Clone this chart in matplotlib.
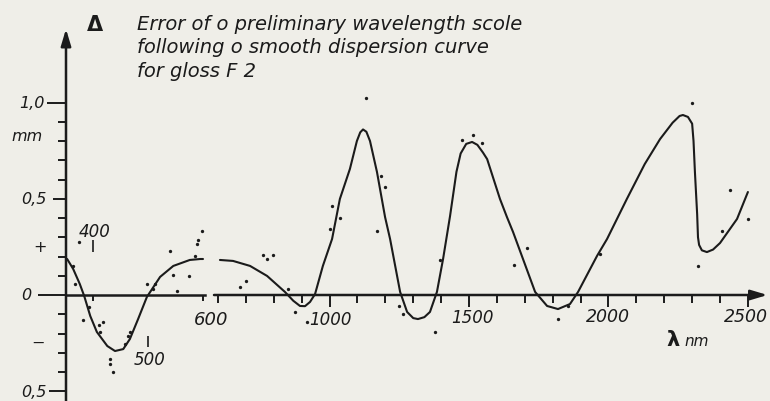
import matplotlib.pyplot as plt
import numpy as np

# smooth dispersion-curve error, short-wave part (nm, mm)
left_curve_wl = [353, 364, 376, 384, 395, 407, 426, 440, 455, 467, 482, 498, 504, 522, 546, 576, 595, 600]
left_curve_err = [0.187, 0.135, 0.057, -0.005, -0.109, -0.192, -0.265, -0.291, -0.281, -0.229,
                  -0.125, -0.010, 0.016, 0.094, 0.151, 0.182, 0.187, 0.187]

# long-wave part
right_curve_wl = [607, 654, 715, 776, 840, 870, 894, 912, 930, 948, 976, 1009, 1037, 1073, 1098,
                  1110, 1120, 1132, 1145, 1170, 1199, 1217, 1253, 1278, 1300, 1317, 1340, 1360,
                  1385, 1407, 1432, 1455, 1470, 1490, 1511, 1530, 1550, 1565, 1611, 1636, 1658,
                  1737, 1780, 1819, 1862, 1891, 1959, 1995, 2066, 2130, 2185, 2230, 2255, 2267,
                  2285, 2300, 2305, 2310, 2318, 2321, 2325, 2335, 2353, 2375, 2400, 2461, 2500]
right_curve_err = [0.182, 0.177, 0.151, 0.099, 0.016, -0.030, -0.057, -0.058, -0.036, 0.005,
                   0.151, 0.291, 0.499, 0.655, 0.800, 0.845, 0.860, 0.848, 0.800, 0.639, 0.405,
                   0.291, 0.016, -0.088, -0.120, -0.125, -0.115, -0.088, 0.016, 0.187, 0.410,
                   0.640, 0.735, 0.785, 0.795, 0.780, 0.740, 0.706, 0.499, 0.405, 0.327, 0.016,
                   -0.057, -0.073, -0.047, 0.016, 0.203, 0.291, 0.499, 0.680, 0.810, 0.895,
                   0.930, 0.935, 0.925, 0.890, 0.800, 0.639, 0.420, 0.300, 0.260, 0.232, 0.223,
                   0.236, 0.270, 0.395, 0.535]

# measured points
left_pts_wl = [374, 598, 591, 589, 540, 585, 364, 545, 575, 367, 498, 513, 509, 553,
               393, 382, 418, 411, 413, 467, 464, 458, 431, 431, 436]
left_pts_err = [0.275, 0.332, 0.286, 0.265, 0.229, 0.203, 0.151, 0.104, 0.099, 0.057, 0.057,
                0.057, 0.031, 0.021, -0.062, -0.130, -0.140, -0.156, -0.192, -0.192, -0.213,
                -0.255, -0.332, -0.358, -0.400]
right_pts_wl = [679, 700, 761, 776, 797, 851, 876, 919, 1002, 1009, 1037, 1131, 1184, 1199,
                1170, 1249, 1263, 1378, 1396, 1475, 1514, 1547, 1661, 1708, 1819, 1855, 1970,
                2300, 2321, 2407, 2436, 2500]
right_pts_err = [0.042, 0.073, 0.208, 0.187, 0.208, 0.031, -0.088, -0.140, 0.343, 0.462, 0.400,
                 1.023, 0.618, 0.561, 0.332, -0.057, -0.099, -0.192, 0.182, 0.805, 0.831, 0.790,
                 0.156, 0.244, -0.125, -0.057, 0.213, 0.997, 0.151, 0.332, 0.545, 0.395]

ytick_minor = [-0.4, -0.3, -0.2, -0.1, 0.1, 0.2, 0.3, 0.4, 0.6, 0.7, 0.8, 0.9]
ytick_major = [1.0, 0.5, 0.0, -0.5]
xtick_right = list(range(600, 2600, 100))
xtick_right_major = [1000, 1500, 2000, 2500]

INK = "#1b1b1b"
BG = "#efeee8"
W, H = 770, 402

plt.rcParams["font.family"] = "DejaVu Sans"
plt.rcParams["font.style"] = "italic"

fig = plt.figure(figsize=(W / 100, H / 100), dpi=100, facecolor=BG)

ylim = ((296 - 402) / 192.5, 296 / 192.5)
# left (short-wave) panel: 0.55 px/nm, right panel: 0.2789 px/nm
ax_l = fig.add_axes([66 / W, 0, (206 - 66) / W, 1])
ax_r = fig.add_axes([214 / W, 0, (770 - 214) / W, 1])
ax_l.set_xlim(400 - 27 / 0.55, 600 + 3 / 0.55)
ax_r.set_xlim(600 - 4 / 0.2789, 600 + 552 / 0.2789)
for ax in (ax_l, ax_r):
    ax.set_ylim(*ylim)
    ax.patch.set_visible(False)
    for s in ("top", "right"):
        ax.spines[s].set_visible(False)

# curves and points
ax_l.plot(left_curve_wl, left_curve_err, color=INK, lw=1.5, solid_capstyle="round")
ax_r.plot(right_curve_wl, right_curve_err, color=INK, lw=1.5, solid_capstyle="round")
ax_l.plot(left_pts_wl, left_pts_err, "o", ms=2.4, color=INK, mew=0)
ax_r.plot(right_pts_wl, right_pts_err, "o", ms=2.4, color=INK, mew=0)

# left panel axes
ax_l.spines["left"].set_visible(False)
ax_l.spines["bottom"].set_position(("data", 0))
ax_l.spines["bottom"].set_linewidth(1.8)
ax_l.spines["bottom"].set_color(INK)
ax_l.spines["bottom"].set_bounds(ax_l.get_xlim()[0], 603)
ax_l.annotate("", xy=(0, (296 - 30) / 192.5), xytext=(0, ylim[0]),
              xycoords=ax_l.get_yaxis_transform(),
              arrowprops=dict(arrowstyle="-|>,head_length=1.0,head_width=0.3",
                              color=INK, lw=1.8, shrinkA=0, shrinkB=0))
ax_l.set_yticks(ytick_major)
ax_l.set_yticks(ytick_minor, minor=True)
ax_l.tick_params(axis="y", which="both", direction="out", width=1.4, color=INK, labelleft=False)
ax_l.tick_params(axis="y", which="minor", length=5.8)
for tick, ln in zip(ax_l.yaxis.get_major_ticks(), [19, 13, 28, 17]):
    tick.tick1line.set_markersize(ln * 0.72)
ax_l.set_xticks([400, 600])
ax_l.tick_params(axis="x", direction="out", length=4.5, width=1.4, color=INK, labelbottom=False)

# right panel axes
ax_r.spines["left"].set_visible(False)
ax_r.spines["bottom"].set_position(("data", 0))
ax_r.spines["bottom"].set_visible(False)
ax_r.annotate("", xy=(0.9955, 0), xytext=(0, 0), xycoords=ax_r.get_yaxis_transform(),
              arrowprops=dict(arrowstyle="-|>,head_length=1.0,head_width=0.3",
                              color=INK, lw=1.8, shrinkA=0, shrinkB=0))
ax_r.set_yticks([])
ax_r.set_xticks(xtick_right_major)
ax_r.set_xticks([t for t in xtick_right if t not in xtick_right_major], minor=True)
ax_r.tick_params(axis="x", which="both", direction="out", width=1.4, color=INK, labelbottom=False)
ax_r.tick_params(axis="x", which="major", length=8.6)
ax_r.tick_params(axis="x", which="minor", length=5.8)

# y labels
ytr = ax_l.get_yaxis_transform()
for txt, val, dx in [("1,0", 1.0, -21), ("0,5", 0.5, -19), ("0", 0.0, -40),
                     ("0,5", -0.5, -19), ("+", 0.25, -26), ("\u2212", -0.245, -28),
                     ("mm", 0.83, -23)]:
    ax_l.annotate(txt, xy=(0, val), xycoords=ytr, xytext=(dx, 0), textcoords="offset pixels",
                  ha="right" if dx > -25 else "center", va="center", fontsize=11.5, color=INK)

# x labels
for txt, val, dx, dy, fs in [("600", 600, -7, -24, 13), ("1000", 1000, 1, -24, 12),
                             ("1500", 1500, 3, -22, 12), ("2000", 2000, -1, -21, 12.5),
                             ("2500", 2500, -2, -21, 12.5)]:
    ax_r.annotate(txt, xy=(val, 0), xytext=(dx, dy), textcoords="offset pixels",
                  ha="center", va="center", fontsize=fs, color=INK)
ax_l.annotate("400", xy=(400, 0), xytext=(2, 64), textcoords="offset pixels",
              ha="center", va="center", fontsize=12, color=INK)
ax_l.annotate("500", xy=(500, 0), xytext=(2, -64), textcoords="offset pixels",
              ha="center", va="center", fontsize=12, color=INK)
ax_l.vlines([400], 0.223, 0.286, color=INK, lw=1.2)
ax_l.vlines([500], -0.27, -0.213, color=INK, lw=1.2)
ax_r.annotate("\u03bb", xy=(2300, 0), xytext=(-19, -44), textcoords="offset pixels",
              ha="center", va="center", fontsize=15, fontweight="bold", style="normal", color=INK)
ax_r.annotate("nm", xy=(2300, 0), xytext=(5, -46), textcoords="offset pixels",
              ha="center", va="center", fontsize=11, color=INK)

# title
fig.text(95 / W, 1 - 25 / H, "\u0394", ha="center", va="center", fontsize=15,
         fontweight="bold", style="normal", color=INK)
for txt, yb in [("Error of o preliminary wavelength scole", 30),
                ("following o smooth dispersion curve", 53),
                ("for gloss F 2", 77)]:
    fig.text(137 / W, 1 - yb / H, txt, ha="left", va="baseline", fontsize=14, color=INK)

fig.savefig("out.png", dpi=100, facecolor=BG)
